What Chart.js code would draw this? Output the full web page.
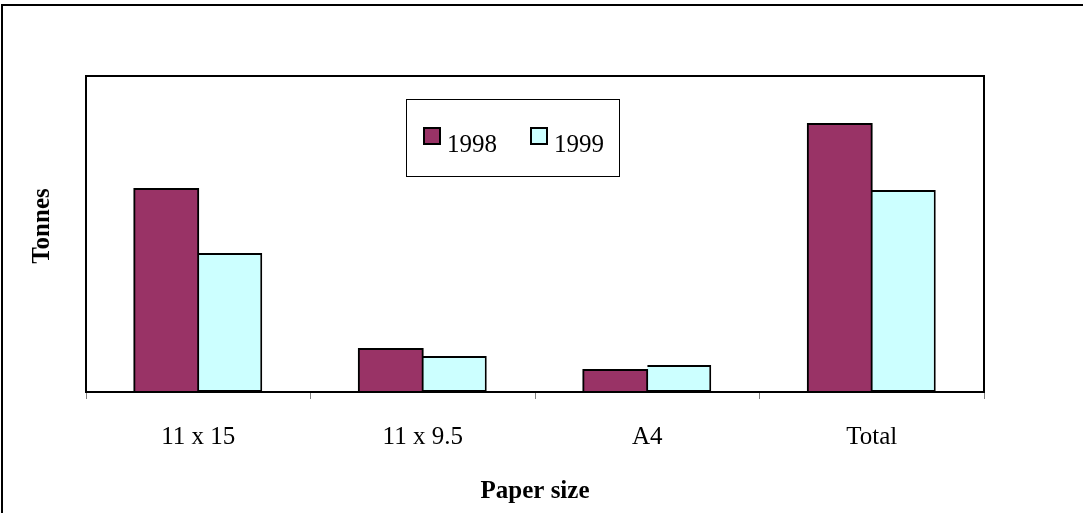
<!DOCTYPE html>
<html>
<head>
<meta charset="utf-8">
<script src="https://cdn.jsdelivr.net/npm/chart.js@4/dist/chart.umd.min.js"></script>
<style>
  html, body { margin: 0; padding: 0; background: #ffffff; }
  #wrap { width: 1083px; height: 513px; }
</style>
</head>
<body>
<div id="wrap"><canvas id="c" width="1083" height="513"></canvas></div>
<script>
// Data (relative tonnage, no axis scale shown)
const categories = ['11 x 15', '11 x 9.5', 'A4', 'Total'];
const seriesNames = ['1998', '1999'];
const values1998 = [203, 43, 22, 268];
const values1999 = [139, 36, 27, 202];
const yMax = 316;
const xTitle = 'Paper size';
const yTitle = 'Tonnes';

const colors = ['#993366', '#CCFFFF'];
const serif = '"Liberation Serif", "Times New Roman", serif';

const framePlugin = {
  id: 'frame',
  beforeDraw(chart) {
    const ctx = chart.ctx;
    ctx.save();
    ctx.fillStyle = '#ffffff';
    ctx.fillRect(0, 0, chart.width, chart.height);
    // outer chart border (right/bottom fall outside the picture)
    ctx.strokeStyle = '#000000';
    ctx.lineWidth = 2;
    ctx.strokeRect(2, 5, chart.width + 20, chart.height + 20);
    ctx.restore();
  },
  afterDatasetsDraw(chart) {
    const ctx = chart.ctx;
    const a = chart.chartArea;
    ctx.save();
    ctx.strokeStyle = '#000000';
    ctx.lineWidth = 2;
    ctx.strokeRect(a.left, a.top, a.right - a.left, a.bottom - a.top);
    // y-axis title
    ctx.fillStyle = '#000000';
    ctx.font = 'bold 25px ' + serif;
    ctx.textAlign = 'center';
    ctx.textBaseline = 'middle';
    ctx.translate(43, 226);
    ctx.rotate(-Math.PI / 2);
    ctx.fillText(yTitle, 0, 0);
    ctx.restore();
  },
  afterDraw(chart) {
    // legend box inside the plot area
    const ctx = chart.ctx;
    ctx.save();
    const bx = 406, by = 99, bw = 213, bh = 77;
    ctx.fillStyle = '#ffffff';
    ctx.fillRect(bx, by, bw, bh);
    ctx.strokeStyle = '#000000';
    ctx.lineWidth = 1;
    ctx.strokeRect(bx + 0.5, by + 0.5, bw, bh);
    const itemX = [424, 531];
    chart.data.datasets.forEach((ds, i) => {
      const sx = itemX[i], sy = 128;
      ctx.fillStyle = ds.backgroundColor;
      ctx.fillRect(sx, sy, 16, 16);
      ctx.strokeStyle = '#000000';
      ctx.lineWidth = 2;
      ctx.strokeRect(sx, sy, 16, 16);
      ctx.fillStyle = '#000000';
      ctx.font = '25px ' + serif;
      ctx.textAlign = 'left';
      ctx.textBaseline = 'alphabetic';
      ctx.fillText(ds.label, sx + 23, 152);
    });
    ctx.restore();
  }
};

new Chart(document.getElementById('c'), {
  type: 'bar',
  data: {
    labels: categories,
    datasets: [
      { label: seriesNames[0], data: values1998, backgroundColor: colors[0], borderColor: '#000000', borderWidth: 2, borderSkipped: false, inflateAmount: 1 },
      { label: seriesNames[1], data: values1999, backgroundColor: colors[1], borderColor: '#000000', borderWidth: { top: 2, right: 2, bottom: 2, left: 0 }, borderSkipped: false, inflateAmount: 0 }
    ]
  },
  options: {
    responsive: false,
    animation: false,
    devicePixelRatio: 1,
    layout: { padding: { left: 86, right: 99, top: 76, bottom: 6 } },
    datasets: { bar: { categoryPercentage: 0.57, barPercentage: 1.0 } },
    plugins: {
      legend: { display: false },
      tooltip: { enabled: false }
    },
    scales: {
      x: {
        offset: true,
        grid: { display: true, drawOnChartArea: false, drawTicks: true, tickLength: 7, color: '#808080', offset: true, lineWidth: 1 },
        border: { display: false },
        ticks: { color: '#000000', font: { family: serif, size: 25, lineHeight: 1.2 }, padding: 23, maxRotation: 0 },
        title: { display: true, text: xTitle, color: '#000000', font: { family: serif, size: 25, weight: 'bold', lineHeight: 1.2 }, padding: { top: 2, bottom: 0 } }
      },
      y: {
        display: false,
        min: 0,
        max: yMax
      }
    }
  },
  plugins: [framePlugin]
});
</script>
</body>
</html>
